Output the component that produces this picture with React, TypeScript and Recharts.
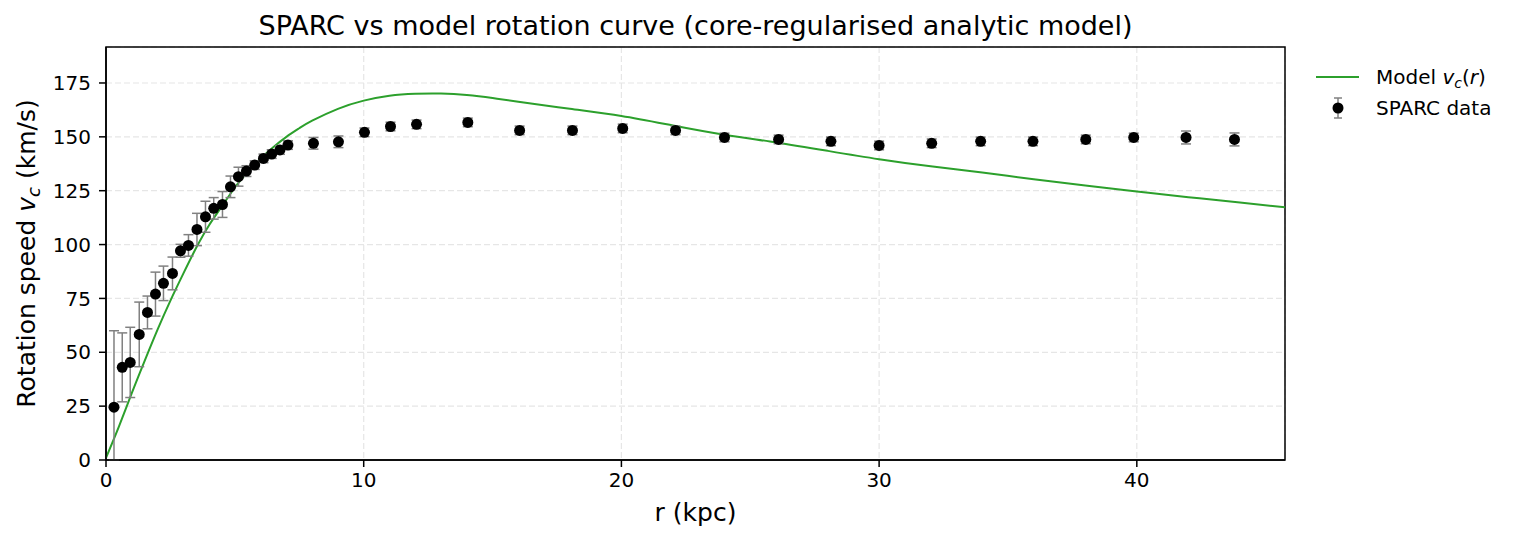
import React from "react";
import {
  ComposedChart, Line, Scatter, XAxis, YAxis, CartesianGrid, ErrorBar, ReferenceArea
} from "recharts";

// model curve
const modelR = [0, 0.5, 1, 1.5, 2, 2.5, 3, 3.5, 4, 4.5, 5, 5.5, 6, 6.5, 7, 7.5, 8, 9, 10, 11, 12, 13, 14, 15, 16, 18, 20, 22, 24, 26, 28, 30, 32, 34, 36, 38, 40, 42, 44, 45.75];
const modelV = [1, 15.5, 31, 46, 60.5, 74, 86.5, 98.5, 109, 117.8, 126.5, 133.8, 140, 145.3, 150, 154, 157.5, 163, 166.8, 169.1, 170, 170.1, 169.4, 168, 166.3, 163, 159.7, 155.3, 151, 147.4, 143.5, 139.6, 136.3, 133.4, 130.3, 127.4, 124.6, 122, 119.5, 117.3];

// SPARC points
const sparcR = [0.31, 0.63, 0.94, 1.29, 1.61, 1.92, 2.23, 2.58, 2.89, 3.2, 3.53, 3.86, 4.18, 4.52, 4.83, 5.14, 5.45, 5.77, 6.11, 6.43, 6.75, 7.06, 8.05, 9.02, 10.03, 11.04, 12.05, 14.04, 16.05, 18.1, 20.05, 22.1, 24.0, 26.1, 28.13, 30.0, 32.04, 33.94, 35.97, 38.02, 39.88, 41.91, 43.79];
const sparcV = [24.5, 43, 45.3, 58.3, 68.5, 77, 82, 86.6, 97.1, 99.6, 107, 112.9, 116.8, 118.6, 126.8, 131.5, 134.1, 136.9, 140, 142, 143.9, 146.2, 147, 147.7, 152.1, 154.8, 155.8, 156.7, 153, 153, 153.9, 153, 149.7, 148.8, 147.9, 146, 147, 147.9, 147.9, 148.8, 149.7, 149.7, 148.8];
const sparcErr = [35.5, 16, 16.3, 15, 7.6, 10.2, 8, 7.6, 3, 5, 7.5, 7.2, 5, 6, 5, 4.4, 2.5, 2, 2, 2, 2, 2, 2.7, 2.7, 2, 2, 2, 2, 2, 2, 2, 2, 2, 2, 2, 2, 2, 2, 2, 2, 2, 3, 3];

const xTicks = [0, 10, 20, 30, 40];
const yTicks = [0, 25, 50, 75, 100, 125, 150, 175];

const model = modelR.map((r, i) => ({ r, v: modelV[i] }));
const sparc = sparcR.map((r, i) => ({ r, v: sparcV[i], err: sparcErr[i] }));

const FONT = "'DejaVu Sans', sans-serif";
const GREEN = "#2ca02c";
const X_MAX = 45.75;
const Y_MAX = 191.7;

const Dot = (p: any) => <circle cx={p.cx} cy={p.cy} r={5.5} fill="#000" />;

export default function App() {
  const tick = { fill: "#000", fontSize: 20, fontFamily: FONT };
  return (
    <div style={{ position: "relative", width: 1517, height: 542, margin: -8, background: "#fff" }}>
      <ComposedChart width={1517} height={542} margin={{ top: 47, right: 232, bottom: 42, left: 0 }}>
        <CartesianGrid stroke="#e6e6e6" strokeDasharray="6 3" strokeWidth={1.2} />
        <XAxis type="number" dataKey="r" domain={[0, X_MAX]} ticks={xTicks} allowDataOverflow
          height={40} tickSize={7} tickMargin={6} stroke="#000" strokeWidth={1.5} tick={tick} />
        <YAxis type="number" domain={[0, Y_MAX]} ticks={yTicks} allowDataOverflow
          width={106} tickSize={7} tickMargin={8} stroke="#000" strokeWidth={1.5} tick={tick} />
        <ReferenceArea x1={0} x2={X_MAX} y1={0} y2={Y_MAX} fill="none" stroke="#000" strokeWidth={1.5} />
        <Line data={model} dataKey="v" type="natural" stroke={GREEN} strokeWidth={2}
          dot={false} isAnimationActive={false} />
        <Scatter data={sparc} dataKey="v" shape={Dot} isAnimationActive={false}>
          <ErrorBar dataKey={(d: any) => [Math.min(d.err, d.v), d.err]} direction="y"
            width={5} stroke="#808080" strokeWidth={1.5} />
        </Scatter>
      </ComposedChart>

      <svg width={1517} height={542} style={{ position: "absolute", left: 0, top: 0, pointerEvents: "none" }}
        fontFamily={FONT} fill="#000">
        <text x={695.5} y={35} textAnchor="middle" fontSize={27}>
          SPARC vs model rotation curve (core-regularised analytic model)
        </text>
        <text x={695.5} y={521} textAnchor="middle" fontSize={25}>r (kpc)</text>
        <text x={35} y={253.5} textAnchor="middle" fontSize={25} transform="rotate(-90 35 253.5)">
          Rotation speed <tspan fontStyle="italic">v</tspan>
          <tspan fontStyle="italic" fontSize={18} dy={5}>c</tspan>
          <tspan dy={-5}> (km/s)</tspan>
        </text>

        <line x1={1316} x2={1359} y1={77} y2={77} stroke={GREEN} strokeWidth={2} />
        <text x={1376} y={84} fontSize={20}>
          Model <tspan fontStyle="italic">v</tspan>
          <tspan fontStyle="italic" fontSize={14} dy={4}>c</tspan>
          <tspan dy={-4}>(</tspan><tspan fontStyle="italic">r</tspan>)
        </text>

        <line x1={1338} x2={1338} y1={98} y2={118} stroke="#808080" strokeWidth={1.5} />
        <line x1={1334} x2={1342} y1={98} y2={98} stroke="#808080" strokeWidth={1.5} />
        <line x1={1334} x2={1342} y1={118} y2={118} stroke="#808080" strokeWidth={1.5} />
        <circle cx={1338} cy={108} r={5.5} fill="#000" />
        <text x={1376} y={115} fontSize={20}>SPARC data</text>
      </svg>
    </div>
  );
}
